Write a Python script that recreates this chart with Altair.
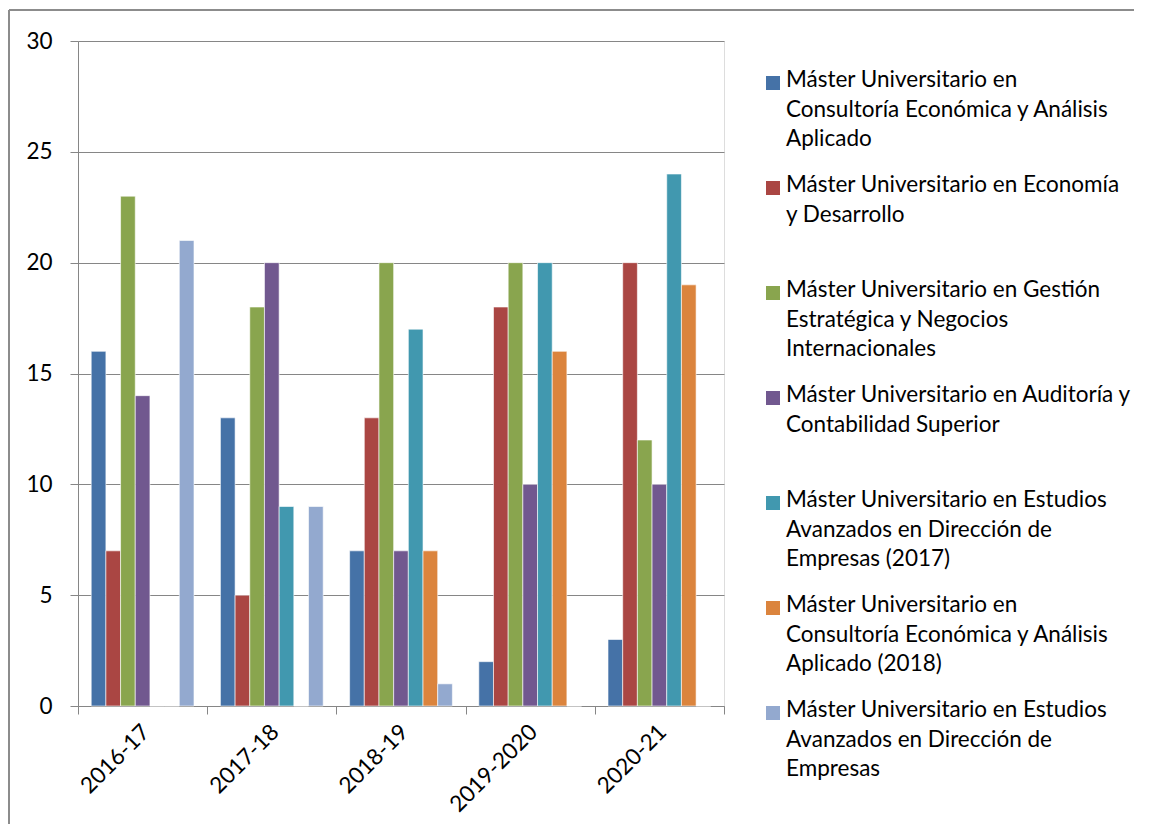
import altair as alt
import pandas as pd

categories = ["2016-17", "2017-18", "2018-19", "2019-2020", "2020-21"]
series_keys = ["S1", "S2", "S3", "S4", "S5", "S6", "S7"]
series_labels = [
    "Máster Universitario en\nConsultoría Económica y Análisis\nAplicado",
    "Máster Universitario en Economía\ny Desarrollo",
    "Máster Universitario en Gestión\nEstratégica y Negocios\nInternacionales",
    "Máster Universitario en Auditoría y\nContabilidad Superior",
    "Máster Universitario en Estudios\nAvanzados en Dirección de\nEmpresas (2017)",
    "Máster Universitario en\nConsultoría Económica y Análisis\nAplicado (2018)",
    "Máster Universitario en Estudios\nAvanzados en Dirección de\nEmpresas",
]
colors = ["#4572A7", "#AA4643", "#89A54E", "#71588F", "#4198AF", "#DB843D", "#93A9CF"]

values = {
    "S1": [16, 13, 7, 2, 3],
    "S2": [7, 5, 13, 18, 20],
    "S3": [23, 18, 20, 20, 12],
    "S4": [14, 20, 7, 10, 10],
    "S5": [0, 9, 17, 20, 24],
    "S6": [0, 0, 7, 16, 19],
    "S7": [21, 9, 1, 0, 0],
}

rows = []
for s in series_keys:
    for c, v in zip(categories, values[s]):
        rows.append({"category": c, "series": s, "value": v})
df = pd.DataFrame(rows)

leg = pd.DataFrame({"series": series_keys, "label": series_labels, "idx": list(range(7))})

FONT = "Lato"
FS = 22.5
W, H = 646, 665

color_scale = alt.Scale(domain=series_keys, range=colors)

bars = alt.Chart(df).mark_bar(stroke="white", strokeWidth=0.6).encode(
    x=alt.X("category:N", sort=categories, title=None,
            scale=alt.Scale(paddingInner=0, paddingOuter=0),
            axis=alt.Axis(labelAngle=-45, labelAlign="right", labelBaseline="middle",
                          tickBand="extent", tickSize=8, tickColor="#868686",
                          domainColor="#868686", labelFontSize=FS, labelFont=FONT,
                          labelColor="black", labelPadding=14, labelOffset=3)),
    xOffset=alt.XOffset("series:N", sort=series_keys,
                        scale=alt.Scale(paddingInner=0, paddingOuter=0.9)),
    y=alt.Y("value:Q", title=None,
            scale=alt.Scale(domain=[0, 30], nice=False),
            axis=alt.Axis(values=[0, 5, 10, 15, 20, 25, 30], grid=True, gridColor="#868686",
                          tickSize=8, tickColor="#868686", domainColor="#868686",
                          labelFontSize=FS, labelFont=FONT, labelColor="black",
                          labelPadding=18)),
    color=alt.Color("series:N", scale=color_scale, legend=None),
)

leg_y = alt.Y("idx:Q", axis=None, scale=alt.Scale(domain=[0, 6], range=[42, 672]))

swatches = alt.Chart(leg).mark_square(size=196, opacity=1).encode(
    x=alt.value(695),
    y=leg_y,
    color=alt.Color("series:N", scale=color_scale, legend=None),
)

labels = alt.Chart(leg).mark_text(align="left", baseline="top", lineBreak="\n",
                                  lineHeight=29.5, fontSize=FS, font=FONT,
                                  color="black", dy=-14).encode(
    x=alt.value(708),
    y=leg_y,
    text="label:N",
)

frame_left = alt.Chart(leg).mark_rule(color="#8c8c8c", strokeWidth=1.5).encode(
    x=alt.value(-69), y=alt.value(-31), y2=alt.value(900))
frame_top = alt.Chart(leg).mark_rule(color="#8c8c8c", strokeWidth=1.5).encode(
    x=alt.value(-69), x2=alt.value(1200), y=alt.value(-31))

legend_layer = alt.layer(swatches, labels)

chart = alt.layer(bars, legend_layer, frame_left, frame_top).resolve_scale(
    y="independent"
).properties(
    width=W, height=H,
    autosize=alt.AutoSizeParams(type="none"),
    padding={"left": 70, "top": 33, "right": 410, "bottom": 118},
).configure_view(stroke=None).configure(background="white")

chart.save("out.html", embed_options={"renderer": "svg", "actions": False})
